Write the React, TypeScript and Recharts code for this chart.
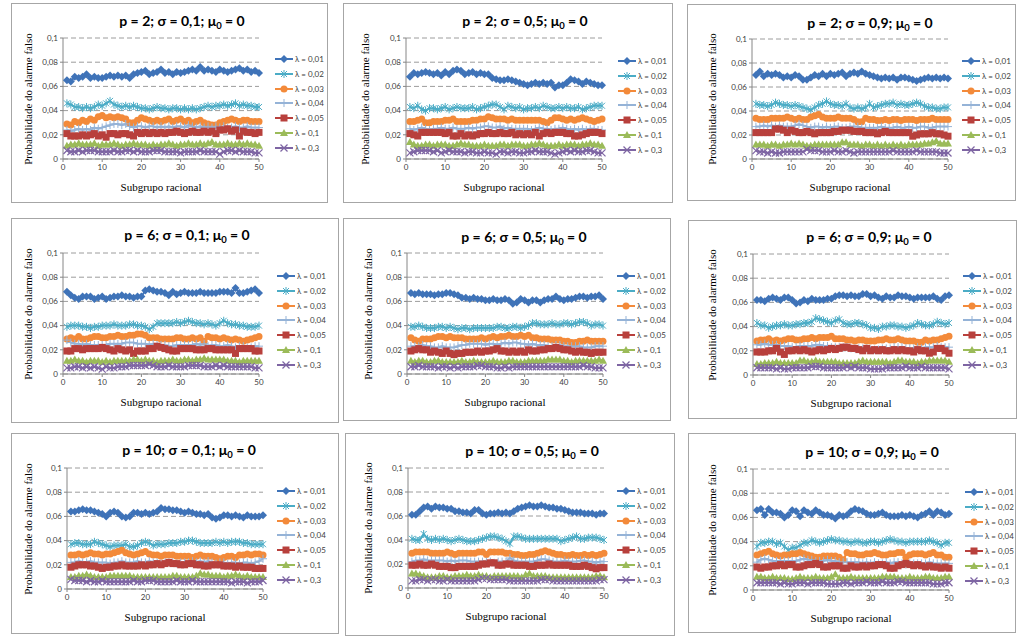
import React from "react";
import { LineChart, Line, XAxis, YAxis, CartesianGrid } from "recharts";

// ---------- categories / labels ----------
const SUBGROUPS: number[] = Array.from({ length: 50 }, (_, i) => i + 1);
const LAMBDA_LABELS = ["λ = 0,01", "λ = 0,02", "λ = 0,03", "λ = 0,04", "λ = 0,05", "λ = 0,1", "λ = 0,3"];
const P_VALUES = [2, 2, 2, 6, 6, 6, 10, 10, 10];
const SIGMA_LABELS = ["0,1", "0,5", "0,9", "0,1", "0,5", "0,9", "0,1", "0,5", "0,9"];
const Y_TICKS = [0, 0.02, 0.04, 0.06, 0.08, 0.1];
const X_TICKS = [0, 10, 20, 30, 40, 50];
const SCALE = 1000; // values below are probability x 1000

// ---------- series values (x1000), one row per lambda ----------
const P2_SIG01: number[][] = [
  [65,64,68,67,68,70,67,68,67,67,68,69,68,69,68,69,67,70,71,72,73,70,71,72,74,71,72,70,72,71,72,73,74,73,76,73,74,73,72,74,73,72,73,74,75,73,74,72,73,71],
  [46,45,43,43,42,43,42,43,45,44,46,48,45,44,43,44,43,44,43,42,42,41,42,43,42,42,41,42,42,41,42,41,42,41,42,43,44,43,44,44,45,44,45,46,44,45,44,44,43,43],
  [29,28,31,30,32,31,33,32,35,36,34,35,34,35,34,33,30,30,32,34,33,32,31,32,31,32,33,31,32,33,31,32,30,31,32,30,29,28,28,30,31,32,33,32,31,32,32,31,31,31],
  [24,23,24,25,24,25,24,26,25,26,27,28,29,29,28,29,27,26,27,27,26,27,27,26,27,26,27,26,27,27,26,28,27,26,27,26,27,26,27,26,27,26,26,27,26,26,27,26,26,26],
  [21,19,19,19,20,19,20,21,19,20,18,21,21,20,21,21,20,19,22,21,22,21,22,21,22,21,22,22,23,22,21,22,23,22,22,23,22,23,21,24,24,25,23,24,19,23,22,22,21,22],
  [11,12,12,13,12,12,12,13,11,12,12,12,13,12,11,12,12,13,12,12,12,11,12,11,12,12,13,12,11,12,12,13,12,12,13,12,13,14,12,12,12,13,12,12,13,12,13,12,12,11],
  [7,6,6,7,6,7,7,7,6,6,6,6,7,6,6,7,7,6,7,6,6,6,7,7,7,6,6,6,6,5,6,6,6,6,7,6,6,6,6,4,6,7,7,6,7,6,6,6,5,5],
];
const P2_SIG05: number[][] = [
  [68,71,70,71,72,71,70,71,69,72,70,73,74,73,70,71,72,70,71,70,70,67,66,65,65,66,65,64,63,62,61,62,63,62,63,62,63,59,61,61,63,66,65,64,62,64,63,62,61,61],
  [43,42,44,41,40,42,42,41,42,43,41,42,43,42,42,42,43,41,42,43,44,45,45,43,41,44,43,42,43,41,42,42,43,42,44,43,42,42,43,42,43,42,42,43,41,42,43,44,44,44],
  [31,31,32,33,30,30,31,31,31,32,32,33,31,31,31,31,32,32,33,33,35,34,33,33,33,32,33,32,32,32,32,32,32,32,31,30,32,34,34,33,32,33,32,33,34,33,32,31,32,33],
  [25,24,25,26,25,24,25,25,26,25,25,26,25,25,25,26,25,26,26,27,27,26,26,27,25,26,25,25,25,25,25,24,25,26,25,25,24,25,25,26,25,24,25,24,25,24,25,25,24,24],
  [21,20,19,22,22,22,22,22,22,21,22,19,19,21,19,20,19,20,21,21,22,21,21,22,21,21,22,20,21,20,21,20,22,19,21,22,21,22,22,22,21,21,19,19,20,21,22,22,22,21],
  [14,12,11,11,12,12,11,12,12,12,11,11,12,13,12,12,11,11,11,12,11,11,11,12,12,11,12,12,12,11,11,12,12,13,12,11,11,11,12,11,12,12,12,11,12,12,13,12,12,11],
  [5,6,7,7,7,7,6,7,5,6,7,6,6,6,5,6,6,5,5,6,5,5,4,6,6,5,6,6,5,5,6,6,7,6,6,6,5,4,5,6,7,6,7,6,6,7,7,6,5,5],
];
const P2_SIG09: number[][] = [
  [70,73,69,71,70,71,70,68,69,68,70,69,66,66,68,70,69,71,69,71,70,71,72,69,71,72,71,73,71,70,69,68,67,68,67,68,66,68,68,67,66,65,66,67,68,67,68,67,68,67],
  [46,45,45,44,45,47,46,45,45,44,45,44,43,42,41,43,45,46,48,46,45,45,44,46,43,42,43,42,43,46,43,44,45,46,46,47,45,46,45,45,46,47,46,44,43,43,42,42,43,43],
  [34,33,33,33,34,34,34,34,35,34,33,34,33,33,35,36,37,35,34,34,34,35,34,34,34,33,31,31,34,33,33,32,32,33,32,33,33,32,33,33,33,32,33,33,33,34,33,33,33,33],
  [27,27,28,27,28,27,28,27,27,27,28,29,28,27,26,27,27,26,27,26,27,27,26,26,27,27,27,26,26,26,26,26,27,26,26,26,27,26,26,27,26,26,27,27,26,26,27,27,27,27],
  [22,22,22,22,22,25,25,24,22,24,23,22,22,23,22,21,22,22,22,22,23,23,24,24,24,23,23,23,22,22,22,21,22,23,22,22,22,22,22,22,19,20,21,21,21,22,21,21,20,19],
  [12,12,12,11,12,12,11,12,12,13,12,13,12,11,11,12,12,12,12,12,12,12,14,14,12,12,12,11,12,12,11,12,11,12,11,12,11,12,11,12,12,12,12,13,13,14,15,13,13,13],
  [7,6,6,5,6,5,5,6,6,6,6,6,6,8,7,7,7,6,6,6,7,6,6,7,6,5,6,6,6,6,6,6,6,6,6,7,6,6,6,6,6,7,6,6,6,6,6,5,5,5],
];
const P6_SIG01: number[][] = [
  [68,65,63,62,64,64,64,62,63,64,62,63,64,64,65,64,64,63,64,64,69,70,69,68,68,67,65,68,66,67,68,67,67,67,68,67,67,67,67,68,68,68,67,71,67,67,68,69,70,67],
  [39,40,40,40,39,39,38,39,39,40,40,40,41,40,40,40,41,41,40,40,39,37,39,42,42,42,42,42,43,42,43,44,43,42,42,41,42,41,40,42,44,42,41,41,40,40,39,39,39,40],
  [29,30,29,31,29,29,30,31,31,30,30,31,31,32,31,31,32,32,33,33,32,30,30,30,29,29,29,29,30,30,29,29,30,29,30,27,31,30,30,29,30,29,28,29,28,27,28,29,30,31],
  [28,26,25,25,24,25,24,24,24,24,24,25,25,25,25,26,26,26,25,25,25,24,25,24,24,24,23,23,24,24,24,24,24,25,24,25,23,24,24,23,23,24,23,22,23,23,22,22,23,23],
  [19,19,21,21,20,21,21,21,21,22,21,20,19,21,20,19,20,17,19,19,19,21,21,23,22,21,20,19,19,21,21,21,21,20,20,20,21,21,20,20,20,20,20,17,21,21,21,21,19,19],
  [11,11,12,11,11,10,11,11,11,10,11,10,11,11,11,11,11,12,12,11,12,11,11,10,11,11,11,12,11,11,12,12,11,12,12,13,12,12,12,12,12,11,11,11,10,11,11,11,11,11],
  [5,5,6,6,5,6,5,6,5,4,6,5,5,6,6,6,7,7,7,7,7,8,7,6,6,6,7,6,6,6,6,7,7,7,7,6,6,6,7,6,7,6,6,6,6,6,6,6,5,5],
];
const P6_SIG05: number[][] = [
  [67,66,67,66,66,66,65,66,66,67,67,66,65,63,63,62,63,62,62,61,61,62,61,61,62,61,58,59,62,61,59,61,61,59,61,62,62,64,62,61,62,62,63,64,64,63,64,64,65,62],
  [39,39,40,39,38,38,38,39,39,38,39,38,37,38,38,37,38,38,38,38,38,38,39,39,38,38,39,39,38,39,40,42,42,41,41,41,42,41,41,42,42,41,42,43,43,42,40,41,41,40],
  [30,28,27,29,29,29,30,31,31,30,31,30,30,30,29,29,29,29,30,29,30,31,30,31,31,32,31,31,32,31,32,30,30,29,29,29,28,28,28,27,27,26,26,27,27,28,27,27,27,27],
  [23,23,23,24,23,23,22,22,23,22,22,22,23,24,24,25,25,25,25,24,25,25,24,25,26,25,26,26,25,25,24,25,24,24,24,23,23,24,24,23,23,23,23,23,22,22,22,23,23,23],
  [19,20,21,20,20,18,19,18,17,19,17,16,17,17,18,18,18,19,18,19,19,20,21,19,19,18,19,18,19,18,20,19,19,20,20,21,21,22,21,20,20,19,18,19,18,18,17,18,18,18],
  [11,10,11,11,10,10,11,11,10,10,10,10,10,11,10,10,11,10,10,10,10,11,10,10,10,11,11,10,10,10,11,11,11,11,11,12,12,12,12,11,11,10,11,11,11,11,11,11,12,11],
  [6,6,7,6,6,6,6,5,6,6,5,6,5,6,6,6,6,7,7,6,6,6,5,5,6,5,6,6,6,6,6,6,6,6,6,6,6,6,6,6,6,6,6,6,7,6,6,5,5,5],
];
const P6_SIG09: number[][] = [
  [62,62,61,63,64,63,62,64,64,62,59,60,62,61,63,62,62,62,63,63,65,66,66,65,66,65,65,67,67,65,66,64,63,65,64,64,66,65,65,64,63,64,64,64,64,65,63,62,65,66],
  [43,41,41,39,40,41,41,42,41,41,42,42,43,43,44,47,46,45,44,43,45,46,43,42,42,43,43,42,41,39,39,38,40,40,41,41,40,40,39,40,41,43,42,41,41,42,44,43,42,43],
  [28,29,29,30,28,29,28,29,30,30,29,29,30,30,31,30,31,31,31,32,30,30,30,29,29,28,29,29,28,28,28,29,29,30,29,29,30,29,28,28,28,27,27,29,28,29,29,30,31,32],
  [25,25,26,25,25,25,24,24,24,23,23,24,24,24,24,25,25,24,24,23,23,23,23,23,22,22,22,22,22,21,21,21,22,22,22,23,23,23,22,22,22,23,22,23,23,23,24,23,23,23],
  [19,19,19,20,20,22,19,17,20,20,21,20,21,20,19,20,21,20,21,22,21,22,23,23,22,22,21,20,22,20,21,20,21,20,20,21,20,21,20,20,19,21,20,20,18,19,22,22,20,18],
  [9,9,10,10,10,11,10,10,10,10,10,12,12,11,11,12,11,11,11,11,11,10,10,10,10,10,11,12,11,11,11,11,11,11,10,11,12,12,11,11,11,10,11,11,12,12,12,12,12,11],
  [6,6,6,6,6,5,6,5,5,6,6,6,6,6,7,7,7,6,6,6,6,6,6,7,6,7,6,6,6,5,5,5,5,6,6,6,6,6,7,6,6,6,7,6,6,6,6,6,6,5],
];
const P10_SIG01: number[][] = [
  [64,64,65,66,65,65,64,63,62,60,63,64,63,60,59,60,63,63,62,63,62,63,64,67,66,66,65,65,64,63,64,63,62,62,61,62,59,58,59,61,61,60,61,60,59,61,60,60,60,61],
  [37,38,38,37,37,37,39,38,37,36,35,36,36,36,37,35,35,36,38,39,38,36,37,37,37,38,38,38,39,39,40,40,39,38,38,38,38,39,38,39,38,39,39,39,38,38,37,37,37,37],
  [28,28,29,28,29,30,29,29,28,29,29,30,31,32,30,29,28,29,30,31,29,28,28,27,28,28,28,27,27,27,27,26,27,28,27,27,27,26,25,26,27,27,26,28,28,29,28,29,29,28],
  [22,22,23,22,22,23,22,22,22,22,21,22,22,23,22,22,22,23,22,22,23,22,22,21,22,22,22,21,22,22,22,23,22,23,22,23,22,21,22,22,21,22,22,21,22,22,21,22,23,25],
  [18,19,20,20,20,19,19,18,17,18,18,19,19,20,19,19,19,19,20,19,20,20,21,20,21,22,21,21,20,20,21,21,20,20,19,19,20,20,20,19,19,19,18,19,18,18,18,17,17,17],
  [10,10,11,11,12,11,10,10,10,10,11,11,11,11,11,11,10,10,10,10,10,10,10,10,10,10,11,11,10,10,10,10,11,13,12,12,11,11,11,10,11,11,12,11,10,11,10,10,10,10],
  [8,7,7,7,6,7,6,6,7,6,6,6,6,6,6,6,7,6,6,7,7,7,6,6,6,6,6,7,6,6,6,7,6,6,6,6,6,6,6,6,6,5,6,6,6,5,6,6,6,7],
];
const P10_SIG05: number[][] = [
  [61,61,64,67,68,66,68,67,67,66,66,64,64,63,63,62,65,65,62,61,62,62,63,62,63,62,64,66,67,68,69,68,68,69,68,67,67,66,66,65,64,63,63,63,62,62,62,61,62,62],
  [41,40,40,45,41,40,41,40,41,40,39,40,41,40,39,39,39,40,41,42,43,43,42,41,39,37,43,43,42,41,41,41,41,41,41,41,41,41,39,40,41,42,43,41,41,42,42,42,41,40],
  [29,30,30,30,30,29,29,29,29,30,29,28,29,29,29,29,29,30,30,28,30,30,30,30,29,29,28,28,27,27,28,28,29,30,31,30,29,28,28,27,27,28,27,27,28,27,28,27,28,29],
  [22,23,23,24,23,23,23,23,23,22,23,22,23,23,23,22,22,22,22,22,22,21,22,22,22,25,23,22,22,22,22,22,23,24,24,23,22,22,22,23,22,22,22,23,23,22,22,21,22,22],
  [19,19,20,19,19,20,19,18,18,18,17,17,18,18,18,18,18,19,20,20,21,21,19,19,20,20,19,19,19,19,18,18,19,19,19,20,19,19,19,19,19,18,18,18,19,18,17,16,17,17],
  [12,12,11,10,9,9,9,10,10,9,9,10,10,10,11,10,10,11,10,10,9,10,10,10,10,10,10,10,9,11,12,10,10,10,10,9,9,9,9,9,9,9,9,9,9,9,9,10,10,9],
  [6,6,7,7,6,7,7,6,6,7,6,6,6,6,6,6,6,7,8,8,7,7,7,7,7,6,6,6,6,6,6,6,6,7,7,7,6,6,6,6,6,6,6,6,6,6,6,6,7,7],
];
const P10_SIG09: number[][] = [
  [66,67,62,67,64,64,63,60,62,66,65,61,66,64,63,66,64,62,62,61,59,62,61,62,65,67,66,65,63,62,62,63,64,62,61,61,61,62,61,62,61,60,62,63,65,62,65,64,62,63],
  [36,39,39,40,40,38,39,36,33,35,35,37,39,39,41,40,39,40,41,42,41,41,40,40,39,40,40,39,39,40,40,39,40,41,42,41,40,40,39,40,40,40,40,40,41,40,39,37,39,39],
  [29,30,31,32,30,29,28,29,29,30,30,31,30,29,28,27,27,28,28,28,28,27,25,31,30,30,29,29,30,30,31,30,29,29,30,30,31,31,27,29,30,30,30,29,30,31,29,29,27,27],
  [23,25,26,25,24,24,24,24,24,24,24,25,26,25,25,24,24,24,25,24,24,23,23,23,23,23,23,22,23,22,23,22,22,23,22,23,23,22,21,22,22,22,22,22,23,22,22,22,22,22],
  [19,18,19,19,20,20,21,20,21,21,19,19,20,21,21,22,21,19,19,20,20,20,18,18,20,19,19,20,19,20,20,21,21,20,18,18,20,21,22,21,20,21,20,19,20,19,19,18,19,18],
  [11,11,10,10,11,10,10,10,9,9,10,11,10,10,10,11,10,10,10,11,13,10,10,10,11,10,10,10,10,10,10,10,11,11,11,11,10,10,10,11,10,10,10,11,11,10,10,10,11,11],
  [6,6,6,6,6,6,5,6,5,5,6,6,6,5,6,6,6,6,5,5,5,5,6,6,5,6,6,6,7,6,6,6,7,6,6,6,7,7,6,6,6,6,6,6,6,5,5,5,6,6],
];

const PANEL_DATA = [P2_SIG01, P2_SIG05, P2_SIG09, P6_SIG01, P6_SIG05, P6_SIG09, P10_SIG01, P10_SIG05, P10_SIG09];

// ---------- layout (positions relative to each panel) ----------
type Layout = {
  left: number; top: number; w: number; h: number;
  plotLeft: number; plotTop: number; plotBottom: number;
  titleX: number; titleY: number; legendX: number; legendY: number; ylabX: number;
};
const LAYOUTS: Layout[] = [
  { left: 11, top: 3, w: 317, h: 200, plotLeft: 52, plotTop: 35, plotBottom: 156, titleX: 171, titleY: 18, legendX: 264, legendY: 56, ylabX: 17 },
  { left: 343, top: 3, w: 330, h: 200, plotLeft: 63, plotTop: 35, plotBottom: 156, titleX: 182, titleY: 18, legendX: 275, legendY: 58, ylabX: 22 },
  { left: 687, top: 4, w: 329, h: 197, plotLeft: 65, plotTop: 35, plotBottom: 155, titleX: 183, titleY: 19, legendX: 275, legendY: 57, ylabX: 25 },
  { left: 11, top: 218, w: 328, h: 205, plotLeft: 52, plotTop: 35, plotBottom: 156, titleX: 176, titleY: 17, legendX: 266, legendY: 58, ylabX: 17 },
  { left: 343, top: 218, w: 328, h: 203, plotLeft: 64, plotTop: 35, plotBottom: 156, titleX: 181, titleY: 19, legendX: 274, legendY: 58, ylabX: 25 },
  { left: 688, top: 220, w: 329, h: 199, plotLeft: 65, plotTop: 34, plotBottom: 155, titleX: 181, titleY: 17, legendX: 275, legendY: 56, ylabX: 24 },
  { left: 11, top: 433, w: 328, h: 201, plotLeft: 56, plotTop: 35, plotBottom: 156, titleX: 178, titleY: 17, legendX: 266, legendY: 58, ylabX: 17 },
  { left: 345, top: 433, w: 330, h: 203, plotLeft: 63, plotTop: 35, plotBottom: 155, titleX: 187, titleY: 18, legendX: 272, legendY: 58, ylabX: 23 },
  { left: 688, top: 433, w: 328, h: 200, plotLeft: 65, plotTop: 36, plotBottom: 157, titleX: 184, titleY: 19, legendX: 277, legendY: 59, ylabX: 24 },
];
const PLOT_W = 196;
const LEGEND_STEP = 14.8;

// ---------- styles ----------
const SERIES_COLORS = ["#3F73B8", "#4BACC6", "#F38A3A", "#95B3D7", "#B8403C", "#9BBB59", "#7E65A3"];
const SERIES_SHAPES = ["diamond", "star", "circle", "plus", "square", "triangle", "cross"];
const TICK_STYLE = { fontSize: 8, fill: "#404040", fontFamily: "Lato, 'Open Sans', sans-serif" };
const SERIF = "'Liberation Serif', 'DejaVu Serif', serif";

function Marker({ shape, color, cx, cy }: { shape: string; color: string; cx: number; cy: number }) {
  switch (shape) {
    case "diamond":
      return <polygon points={`${cx},${cy - 4} ${cx + 4},${cy} ${cx},${cy + 4} ${cx - 4},${cy}`} fill={color} />;
    case "star":
      return (
        <g stroke={color} strokeWidth={1}>
          <line x1={cx - 3} y1={cy - 3} x2={cx + 3} y2={cy + 3} />
          <line x1={cx - 3} y1={cy + 3} x2={cx + 3} y2={cy - 3} />
          <line x1={cx} y1={cy - 4} x2={cx} y2={cy + 4} />
        </g>
      );
    case "circle":
      return <circle cx={cx} cy={cy} r={3.5} fill={color} />;
    case "plus":
      return (
        <g stroke={color} strokeWidth={1}>
          <line x1={cx - 4} y1={cy} x2={cx + 4} y2={cy} />
          <line x1={cx} y1={cy - 4} x2={cx} y2={cy + 4} />
        </g>
      );
    case "square":
      return <rect x={cx - 3.5} y={cy - 3.5} width={7} height={7} fill={color} />;
    case "triangle":
      return <polygon points={`${cx},${cy - 4} ${cx + 4},${cy + 3} ${cx - 4},${cy + 3}`} fill={color} />;
    default:
      return (
        <g stroke={color} strokeWidth={1.2}>
          <line x1={cx - 3.5} y1={cy - 3.5} x2={cx + 3.5} y2={cy + 3.5} />
          <line x1={cx - 3.5} y1={cy + 3.5} x2={cx + 3.5} y2={cy - 3.5} />
        </g>
      );
  }
}

const makeDot = (k: number) => (props: any) => {
  const { cx, cy, index } = props;
  if (cx == null || cy == null) return <g key={`d-${k}-${index}`} />;
  return (
    <g key={`d-${k}-${index}`}>
      <Marker shape={SERIES_SHAPES[k]} color={SERIES_COLORS[k]} cx={cx} cy={cy} />
    </g>
  );
};

const fmtY = (v: number) => (v === 0 ? "0" : String(+v.toFixed(2)).replace(".", ","));

function Panel({ idx }: { idx: number }) {
  const L = LAYOUTS[idx];
  const series = PANEL_DATA[idx];
  const rows = SUBGROUPS.map((x, i) => {
    const r: Record<string, number> = { x };
    series.forEach((s, k) => {
      r[`s${k}`] = s[i] / SCALE;
    });
    return r;
  });
  return (
    <div
      style={{
        position: "absolute",
        left: L.left,
        top: L.top,
        width: L.w,
        height: L.h,
        border: "1px solid #A6A6A6",
        boxSizing: "border-box",
        background: "#fff",
      }}
    >
      <div style={{ position: "absolute", left: -1, top: -1, width: L.w, height: L.h }}>
        <LineChart
          width={L.w}
          height={L.h}
          data={rows}
          margin={{ top: L.plotTop, right: L.w - L.plotLeft - PLOT_W, bottom: 0, left: 0 }}
        >
          <CartesianGrid horizontal vertical={false} stroke="#9C9C9C" strokeDasharray="5 3" />
          <XAxis
            dataKey="x"
            type="number"
            domain={[0, 50]}
            ticks={X_TICKS}
            interval={0}
            height={L.h - L.plotBottom}
            tick={TICK_STYLE}
            tickSize={3}
            stroke="#868686"
          />
          <YAxis
            type="number"
            domain={[0, 0.1]}
            ticks={Y_TICKS}
            interval={0}
            width={L.plotLeft}
            tickFormatter={fmtY}
            tick={TICK_STYLE}
            tickSize={3}
            stroke="#868686"
          />
          {series.map((_, k) => (
            <Line
              key={k}
              type="linear"
              dataKey={`s${k}`}
              stroke={SERIES_COLORS[k]}
              strokeWidth={2}
              dot={makeDot(k)}
              activeDot={false}
              isAnimationActive={false}
            />
          ))}
        </LineChart>

        {/* title */}
        <div
          style={{
            position: "absolute",
            left: L.titleX,
            top: L.titleY,
            transform: "translate(-50%, -50%)",
            whiteSpace: "nowrap",
            fontFamily: "Lato, 'Open Sans', sans-serif",
            fontWeight: 700,
            fontSize: 14,
            lineHeight: 1,
            color: "#000",
          }}
        >
          {`p = ${P_VALUES[idx]}; σ = ${SIGMA_LABELS[idx]}; μ`}
          <sub style={{ fontSize: "0.68em", verticalAlign: "-0.3em", lineHeight: 0 }}>0</sub>
          {" = 0"}
        </div>

        {/* y-axis title */}
        <div
          style={{
            position: "absolute",
            left: L.ylabX,
            top: (L.plotTop + L.plotBottom) / 2,
            transform: "translate(-50%, -50%) rotate(-90deg)",
            whiteSpace: "nowrap",
            fontFamily: SERIF,
            fontSize: 11,
            lineHeight: 1,
            color: "#000",
          }}
        >
          Probabilidade do alarme falso
        </div>

        {/* x-axis title */}
        <div
          style={{
            position: "absolute",
            left: L.plotLeft + PLOT_W / 2,
            top: L.plotBottom + 28,
            transform: "translate(-50%, -50%)",
            whiteSpace: "nowrap",
            fontFamily: SERIF,
            fontSize: 11,
            lineHeight: 1,
            color: "#000",
          }}
        >
          Subgrupo racional
        </div>

        {/* legend */}
        {LAMBDA_LABELS.map((lab, k) => (
          <div
            key={lab}
            style={{
              position: "absolute",
              left: L.legendX,
              top: L.legendY + k * LEGEND_STEP - 6,
              height: 12,
              display: "flex",
              alignItems: "center",
              whiteSpace: "nowrap",
            }}
          >
            <svg width={18} height={12} style={{ display: "block" }}>
              <line x1={0} y1={6} x2={18} y2={6} stroke={SERIES_COLORS[k]} strokeWidth={2} />
              <Marker shape={SERIES_SHAPES[k]} color={SERIES_COLORS[k]} cx={9} cy={6} />
            </svg>
            <span
              style={{
                marginLeft: 2,
                fontSize: 8,
                fontFamily: "Lato, 'Open Sans', sans-serif",
                color: "#404040",
                lineHeight: 1,
              }}
            >
              {lab}
            </span>
          </div>
        ))}
      </div>
    </div>
  );
}

export default function App() {
  return (
    <div
      style={{
        position: "absolute",
        left: 0,
        top: 0,
        width: 1024,
        height: 642,
        background: "#fff",
        overflow: "hidden",
      }}
    >
      {LAYOUTS.map((_, i) => (
        <Panel key={i} idx={i} />
      ))}
    </div>
  );
}
